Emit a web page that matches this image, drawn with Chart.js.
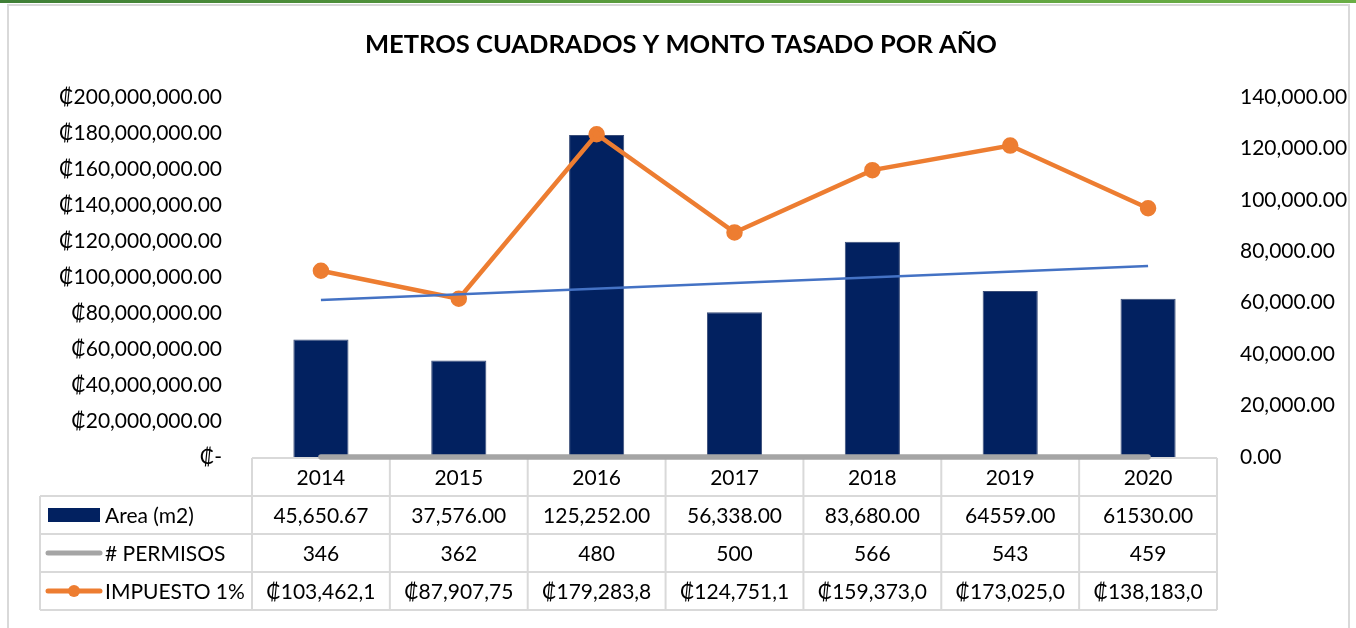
<!DOCTYPE html>
<html>
<head>
<meta charset="utf-8">
<script src="https://cdn.jsdelivr.net/npm/chart.js@4/dist/chart.umd.min.js"></script>
<style>
  html, body { margin: 0; padding: 0; background: #fff; }
  #wrap { position: relative; width: 1356px; height: 628px; overflow: hidden; }
  #green { position: absolute; left: 0; top: 0; width: 1356px; height: 3px; background: linear-gradient(to right, #3f7f36, #5c9e3e, #6aae45); }
  #frame { position: absolute; left: 7px; top: 4px; width: 1343px; height: 640px; border: 2px solid #d9d9d9; box-sizing: border-box; }
  canvas { position: absolute; left: 0; top: 0; }
</style>
</head>
<body>
<div id="wrap">
  <div id="green"></div>
  <div id="frame"></div>
  <canvas id="c" width="1356" height="628"></canvas>
</div>
<script>
// ---- data ----
const categories = ['2014', '2015', '2016', '2017', '2018', '2019', '2020'];
const areaM2 = [45650.67, 37576.00, 125252.00, 56338.00, 83680.00, 64559.00, 61530.00];
const permisos = [346, 362, 480, 500, 566, 543, 459];
const impuesto = [103462100, 87907750, 179283800, 124751100, 159373000, 173025000, 138183000];
// linear trend of Area (at first and last category)
const areaTrend = [61100, null, null, null, null, null, 74300];

const leftTickLabels = ['₡-', '₡20,000,000.00', '₡40,000,000.00', '₡60,000,000.00', '₡80,000,000.00',
  '₡100,000,000.00', '₡120,000,000.00', '₡140,000,000.00', '₡160,000,000.00', '₡180,000,000.00', '₡200,000,000.00'];
const rightTickLabels = ['0.00', '20,000.00', '40,000.00', '60,000.00', '80,000.00', '100,000.00', '120,000.00', '140,000.00'];

const seriesNames = ['Area (m2)', '# PERMISOS', 'IMPUESTO 1%'];
const tableArea = ['45,650.67', '37,576.00', '125,252.00', '56,338.00', '83,680.00', '64559.00', '61530.00'];
const tablePermisos = ['346', '362', '480', '500', '566', '543', '459'];
const tableImpuesto = ['₡103,462,1', '₡87,907,75', '₡179,283,8', '₡124,751,1', '₡159,373,0', '₡173,025,0', '₡138,183,0'];

const titleText = 'METROS CUADRADOS Y MONTO TASADO POR AÑO';

// ---- styles ----
const FONT = 'Lato, "Noto Sans", sans-serif';
const NAVY = '#022160';
const ORANGE = '#ED7D31';
const GRAY = '#A5A5A5';
const BLUE = '#4472C4';
const GRID = '#d9d9d9';
const TXT = 21;

const titlePlugin = {
  id: 'titleDraw',
  afterDraw(chart) {
    const ctx = chart.ctx;
    ctx.save();
    ctx.font = 'bold 25.5px ' + FONT;
    ctx.fillStyle = '#000';
    ctx.textAlign = 'center';
    ctx.textBaseline = 'middle';
    ctx.fillText(titleText, 681, 45);
    ctx.restore();
  }
};

function tableGeom(chart) {
  const a = chart.chartArea;
  const n = categories.length;
  return { a, n, w: (a.right - a.left) / n, top: a.bottom + 1, rowH: 38, legLeft: 40 };
}

const tablePlugin = {
  id: 'dataTable',
  beforeDatasetsDraw(chart) {
    const ctx = chart.ctx;
    const { a, n, w, top, rowH, legLeft } = tableGeom(chart);
    const bottom = top + rowH * 4;
    ctx.save();
    ctx.strokeStyle = GRID;
    ctx.lineWidth = 2;
    ctx.beginPath();
    ctx.moveTo(a.left, top); ctx.lineTo(a.right, top);
    for (let r = 1; r <= 4; r++) {
      ctx.moveTo(legLeft, top + r * rowH); ctx.lineTo(a.right, top + r * rowH);
    }
    for (let i = 0; i <= n; i++) {
      const x = a.left + i * w;
      ctx.moveTo(x, top); ctx.lineTo(x, bottom);
    }
    ctx.moveTo(legLeft, top + rowH); ctx.lineTo(legLeft, bottom);
    ctx.stroke();
    ctx.restore();
  },
  afterDraw(chart) {
    const ctx = chart.ctx;
    const { rowH, top } = tableGeom(chart);
    ctx.save();
    ctx.font = TXT + 'px ' + FONT;
    ctx.fillStyle = '#000';
    ctx.textBaseline = 'middle';
    ctx.textAlign = 'center';
    const rows = [categories, tableArea, tablePermisos, tableImpuesto];
    rows.forEach((row, r) => {
      row.forEach((txt, i) => {
        const cx = chart.scales.x.getPixelForValue(i);
        ctx.fillText(txt, cx, top + r * rowH + rowH / 2 + 1);
      });
    });
    ctx.textAlign = 'left';
    seriesNames.forEach((name, r) => {
      const cy = top + (r + 1) * rowH + rowH / 2;
      ctx.fillText(name, 105, cy + 1);
    });
    let cy = top + rowH + rowH / 2;
    ctx.fillStyle = NAVY;
    ctx.fillRect(48, cy - 7, 52, 14);
    cy = top + 2 * rowH + rowH / 2;
    ctx.lineCap = 'round';
    ctx.strokeStyle = GRAY; ctx.lineWidth = 5;
    ctx.beginPath(); ctx.moveTo(48, cy); ctx.lineTo(100, cy); ctx.stroke();
    cy = top + 3 * rowH + rowH / 2;
    ctx.strokeStyle = ORANGE;
    ctx.beginPath(); ctx.moveTo(48, cy); ctx.lineTo(100, cy); ctx.stroke();
    ctx.fillStyle = ORANGE;
    ctx.beginPath(); ctx.arc(74, cy, 6, 0, Math.PI * 2); ctx.fill();
    ctx.restore();
  }
};

Chart.defaults.font.family = FONT;
Chart.defaults.color = '#000';

new Chart(document.getElementById('c'), {
  data: {
    labels: categories,
    datasets: [
      {
        type: 'line', label: 'Lineal (Area (m2))', data: areaTrend, yAxisID: 'yR',
        borderColor: BLUE, borderWidth: 2.5, pointRadius: 0, spanGaps: true, order: 1, clip: false
      },
      {
        type: 'line', label: seriesNames[2], data: impuesto, yAxisID: 'yL',
        borderColor: ORANGE, backgroundColor: ORANGE, borderWidth: 4.5, pointRadius: 6,
        pointBackgroundColor: ORANGE, pointBorderColor: ORANGE, order: 2, clip: false
      },
      {
        type: 'line', label: seriesNames[1], data: permisos, yAxisID: 'yL',
        borderColor: GRAY, borderWidth: 5.5, pointRadius: 0, borderCapStyle: 'round', order: 3, clip: false
      },
      {
        type: 'bar', label: seriesNames[0], data: areaM2, yAxisID: 'yR',
        backgroundColor: NAVY, borderColor: '#3a4d78', borderWidth: 1,
        categoryPercentage: 1.0, barPercentage: 0.4, order: 4
      }
    ]
  },
  options: {
    responsive: false,
    animation: false,
    layout: { padding: { top: 97, bottom: 171, left: 0, right: 0 } },
    plugins: { legend: { display: false }, title: { display: false }, tooltip: { enabled: false } },
    scales: {
      x: { type: 'category', display: false, offset: true, grid: { display: false } },
      yL: {
        position: 'left', min: 0, max: 200000000,
        grid: { display: false, drawTicks: false }, border: { display: false },
        ticks: {
          stepSize: 20000000, padding: 30, font: { size: TXT }, color: '#000',
          callback: (v, i) => leftTickLabels[i]
        },
        afterFit(s) { s.width = 252; }
      },
      yR: {
        position: 'right', min: 0, max: 140000,
        grid: { display: false, drawTicks: false }, border: { display: false },
        ticks: {
          stepSize: 20000, padding: 23, font: { size: TXT }, color: '#000',
          callback: (v, i) => rightTickLabels[i]
        },
        afterFit(s) { s.width = 139; }
      }
    }
  },
  plugins: [titlePlugin, tablePlugin]
});
</script>
</body>
</html>
